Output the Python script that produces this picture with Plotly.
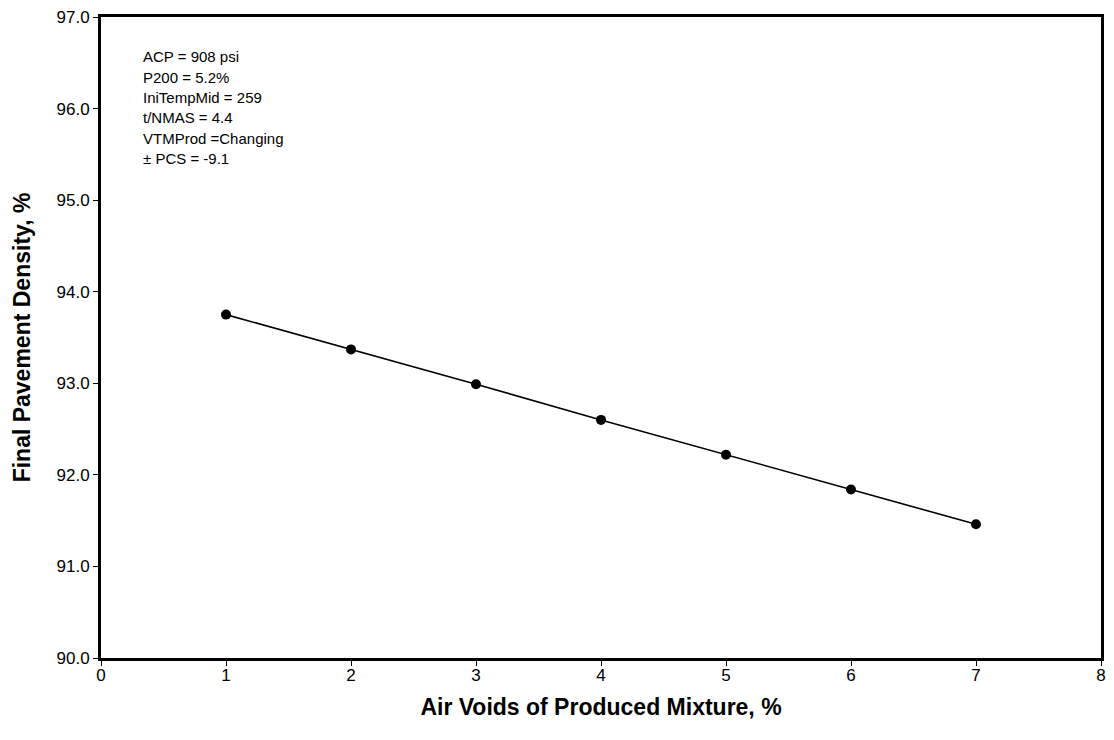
import plotly.graph_objects as go

# Air voids of produced mixture (%) and resulting final pavement density (%)
air_voids = [1, 2, 3, 4, 5, 6, 7]
final_density = [93.75, 93.37, 92.99, 92.60, 92.22, 91.84, 91.46]

# Input parameters listed in the upper-left corner of the plot
param_lines = [
    "ACP = 908 psi",
    "P200 = 5.2%",
    "IniTempMid = 259",
    "t/NMAS = 4.4",
    "VTMProd =Changing",
    "± PCS = -9.1",
]

x_ticks = [0, 1, 2, 3, 4, 5, 6, 7, 8]
y_ticks = [90, 91, 92, 93, 94, 95, 96, 97]

font_family = "Liberation Sans, Arial, sans-serif"

fig = go.Figure()
fig.add_trace(
    go.Scatter(
        x=air_voids,
        y=final_density,
        mode="lines+markers",
        line=dict(color="black", width=1.6),
        marker=dict(color="black", size=10),
        showlegend=False,
    )
)

# Parameter block, one annotation per line for even spacing
top_y = 0.938
step = 0.0318
for i, txt in enumerate(param_lines):
    fig.add_annotation(
        x=0.040, y=top_y - i * step,
        xref="paper", yref="paper",
        xanchor="left", yanchor="middle",
        text=txt, showarrow=False,
        font=dict(family=font_family, size=15, color="black"),
    )

axis_common = dict(
    showline=True, linecolor="black", linewidth=3, mirror=True,
    ticks="outside", ticklen=5, tickwidth=1, tickcolor="black",
    showgrid=False, zeroline=False,
    tickfont=dict(family=font_family, size=17, color="black"),
)

fig.update_layout(
    width=1114, height=740,
    margin=dict(l=101, r=8, t=14, b=82),
    paper_bgcolor="white", plot_bgcolor="white",
    xaxis=dict(
        range=[0, 8], tickvals=x_ticks, ticktext=[str(v) for v in x_ticks],
        ticklabelstandoff=-5,
        title=dict(text="<b>Air Voids of Produced Mixture, %</b>",
                   font=dict(family=font_family, size=23, color="black"), standoff=15),
        **axis_common,
    ),
    yaxis=dict(
        range=[90, 97], tickvals=y_ticks, ticktext=[f"{v:.1f}" for v in y_ticks],
        title=dict(text="<b>Final Pavement Density, %</b>",
                   font=dict(family=font_family, size=23, color="black"), standoff=20),
        **axis_common,
    ),
)

fig.write_html("out.html")
